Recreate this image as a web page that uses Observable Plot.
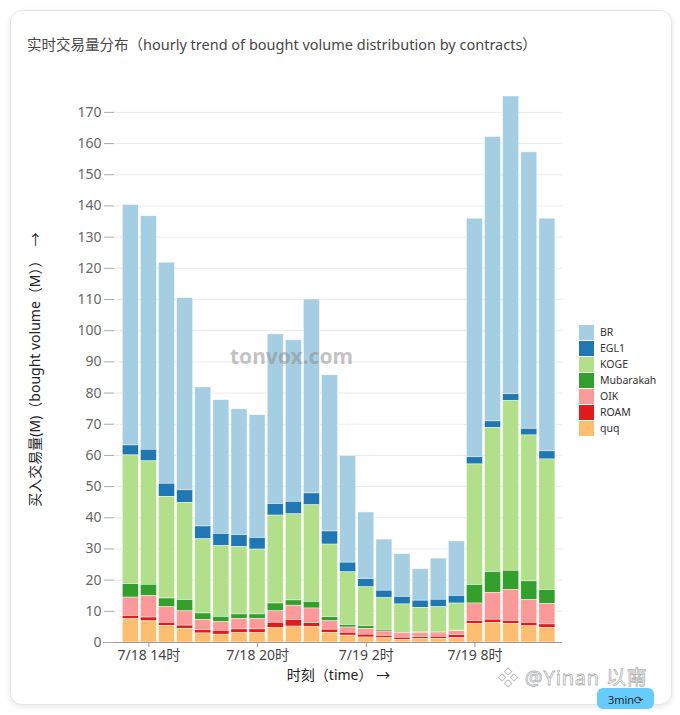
<!DOCTYPE html>
<html>
<head>
<meta charset="utf-8">
<script src="https://cdn.jsdelivr.net/npm/d3@7"></script>
<script src="https://cdn.jsdelivr.net/npm/@observablehq/plot@0.6"></script>
<style>
  body { margin: 0; width: 680px; height: 715px; background: #fff; position: relative; overflow: hidden;
         font-family: "Noto Sans", "Noto Sans CJK SC", sans-serif; }
  #card { position: absolute; left: 10px; top: 10px; width: 660px; height: 693px; border: 1px solid #e6e6e6;
          border-radius: 12px; box-shadow: 0 2px 6px rgba(0,0,0,0.10); background: #fff; }
  #title { position: absolute; left: 27px; top: 33px; font-size: 14.5px; line-height: 22px; color: #464646; white-space: nowrap; }
  #chart { position: absolute; left: 0; top: 80px; }
  #legend { position: absolute; left: 579px; top: 324px; font-size: 10.5px; color: #333; }
  .item { display: flex; align-items: center; height: 16px; }
  .sw { width: 15px; height: 15px; margin-right: 6px; }
  #btn { position: absolute; left: 597px; top: 688px; width: 57px; height: 21px; border-radius: 6px; background: #66ccff;
         font-size: 11px; color: #222; text-align: center; line-height: 23px; }
  #wm { position: absolute; left: 498px; top: 667px; font-size: 20px; line-height: 22px; color: rgba(255,255,255,0.75);
        -webkit-text-stroke: 0.8px rgba(150,150,150,0.75); white-space: nowrap; letter-spacing: 0.8px; }
</style>
</head>
<body>
<div id="card"></div>
<div id="title"></div>
<div id="chart"></div>
<div id="legend"></div>
<div id="btn">3min⟳</div>
<div id="wm">❖ @Yinan 以南</div>
<script>
// hourly categories (UTC used as wall-clock time)
const hours = [
  "2025-07-18T13:00Z","2025-07-18T14:00Z","2025-07-18T15:00Z","2025-07-18T16:00Z","2025-07-18T17:00Z","2025-07-18T18:00Z",
  "2025-07-18T19:00Z","2025-07-18T20:00Z","2025-07-18T21:00Z","2025-07-18T22:00Z","2025-07-18T23:00Z","2025-07-19T00:00Z",
  "2025-07-19T01:00Z","2025-07-19T02:00Z","2025-07-19T03:00Z","2025-07-19T04:00Z","2025-07-19T05:00Z","2025-07-19T06:00Z",
  "2025-07-19T07:00Z","2025-07-19T08:00Z","2025-07-19T09:00Z","2025-07-19T10:00Z","2025-07-19T11:00Z","2025-07-19T12:00Z"
];

// series values (M)
const BR        = [77.1, 74.9, 70.9, 61.6, 44.6, 42.9, 40.4, 39.4, 54.4, 51.8, 62.2, 50.1, 34.2, 21.4, 16.4, 13.7, 10.1, 13.2, 17.5, 76.5, 91.2, 95.5, 88.7, 74.6];
const EGL1      = [3.2, 3.7, 4.2, 4.0, 4.1, 3.9, 3.8, 3.7, 3.7, 4.0, 3.8, 4.2, 3.1, 2.6, 2.4, 2.4, 2.3, 2.4, 2.4, 2.3, 2.1, 2.2, 2.1, 2.6];
const KOGE      = [41.3, 39.6, 32.6, 31.2, 23.8, 22.7, 21.6, 20.8, 28.2, 27.6, 31.0, 23.3, 16.9, 12.5, 10.2, 9.1, 7.9, 8.1, 8.7, 38.7, 46.2, 54.4, 46.8, 41.9];
const Mubarakah = [4.3, 3.6, 2.8, 3.6, 2.1, 1.7, 1.5, 1.5, 2.5, 1.7, 2.1, 1.3, 0.8, 0.9, 0.5, 0.1, 0.2, 0.3, 0.2, 5.9, 6.7, 6.1, 6.0, 4.5];
const OIK       = [5.9, 6.9, 5.0, 4.6, 3.25, 2.8, 3.3, 3.3, 3.7, 4.6, 4.7, 2.7, 1.7, 1.8, 1.4, 1.5, 1.3, 1.1, 1.25, 5.6, 8.6, 10.0, 7.3, 6.5];
const ROAM      = [1.0, 1.2, 1.0, 1.0, 1.05, 1.2, 1.2, 1.2, 1.7, 2.1, 1.3, 1.0, 0.9, 0.9, 0.7, 0.65, 0.6, 0.7, 0.95, 0.9, 1.0, 0.9, 1.1, 1.1];
const quq       = [7.5, 6.8, 5.3, 4.4, 2.9, 2.5, 3.0, 3.0, 4.6, 5.1, 4.9, 3.1, 2.2, 1.6, 1.4, 0.85, 1.1, 1.1, 1.4, 6.0, 6.3, 6.0, 5.2, 4.7];

const seriesNames = ["BR", "EGL1", "KOGE", "Mubarakah", "OIK", "ROAM", "quq"];
const seriesColors = ["#a6cee3", "#1f78b4", "#b2df8a", "#33a02c", "#fb9a99", "#e31a1c", "#fdbf6f"];
const stackOrder = ["quq", "ROAM", "OIK", "Mubarakah", "KOGE", "EGL1", "BR"];

// tick labels / axis config
const xTicks = ["2025-07-18T14:00Z", "2025-07-18T20:00Z", "2025-07-19T02:00Z", "2025-07-19T08:00Z"];
const xDomain = ["2025-07-18T12:06Z", "2025-07-19T12:50Z"];
const yTicks = [0, 10, 20, 30, 40, 50, 60, 70, 80, 90, 100, 110, 120, 130, 140, 150, 160, 170];
const titleText = "实时交易量分布（hourly trend of bought volume distribution by contracts）";
const yLabel = "买入交易量(M)（bought volume（M））  →";
const xLabel = "时刻（time） →";

// build long table for the library
const valuesBySeries = {BR, EGL1, KOGE, Mubarakah, OIK, ROAM, quq};
const halfBar = 26.5 * 60 * 1000;
const table = [];
hours.forEach((h, i) => {
  const t = new Date(h);
  seriesNames.forEach(s => {
    table.push({x1: new Date(+t - halfBar), x2: new Date(+t + halfBar), series: s, value: valuesBySeries[s][i]});
  });
});
const totals = hours.map((h, i) => d3.sum(seriesNames, s => valuesBySeries[s][i]));
const yMax = d3.max(totals);

const fmt = d => `${d.getUTCMonth() + 1}/${d.getUTCDate()} ${d.getUTCHours()}时`;

const chart = Plot.plot({
  width: 680,
  height: 620,
  marginLeft: 114,
  marginRight: 118,
  marginTop: 16,
  marginBottom: 58,
  style: {fontFamily: '"Noto Sans", "Noto Sans CJK SC", sans-serif', fontSize: "14px", background: "transparent", overflow: "visible"},
  x: {type: "utc", domain: xDomain.map(d => new Date(d))},
  y: {domain: [0, yMax]},
  color: {domain: seriesNames, range: seriesColors},
  marks: [
    Plot.gridY(yTicks.filter(v => v > 0), {stroke: "#ebebeb", strokeOpacity: 1}),
    Plot.rectY(table, Plot.stackY({x1: "x1", x2: "x2", y: "value", fill: "series", order: stackOrder,
      stroke: "white", strokeWidth: 0.6, strokeOpacity: 0.7})),
    Plot.ruleY([0], {stroke: "#999", insetLeft: -11}),
    Plot.axisY({ticks: yTicks, tickSize: 10, tickPadding: 3, stroke: "#aaa", color: "#666", fill: "#666", label: null}),
    Plot.axisX({ticks: xTicks.map(d => new Date(d)), tickSize: 5, tickPadding: 3, tickFormat: fmt, stroke: "#999", fill: "#444", label: null}),
    Plot.text([yLabel], {text: d => d, frameAnchor: "left", textAnchor: "middle", dx: -79, rotate: -90, fontSize: 14, fill: "#222"}),
    Plot.text([xLabel], {text: d => d, frameAnchor: "bottom", dy: 37, fontSize: 14, fill: "#222"}),
    Plot.text(["tonvox.com"], {text: d => d, frameAnchor: "middle", dx: -47, dy: -12, fontSize: 21, fontWeight: "bold",
      fill: "#888", fillOpacity: 0.5})
  ]
});
document.getElementById("chart").appendChild(chart);
document.getElementById("title").textContent = titleText;

// legend from the same arrays
const legend = d3.select("#legend");
seriesNames.forEach((s, i) => {
  const it = legend.append("div").attr("class", "item");
  it.append("div").attr("class", "sw").style("background", seriesColors[i]);
  it.append("span").text(s);
});
</script>
</body>
</html>
